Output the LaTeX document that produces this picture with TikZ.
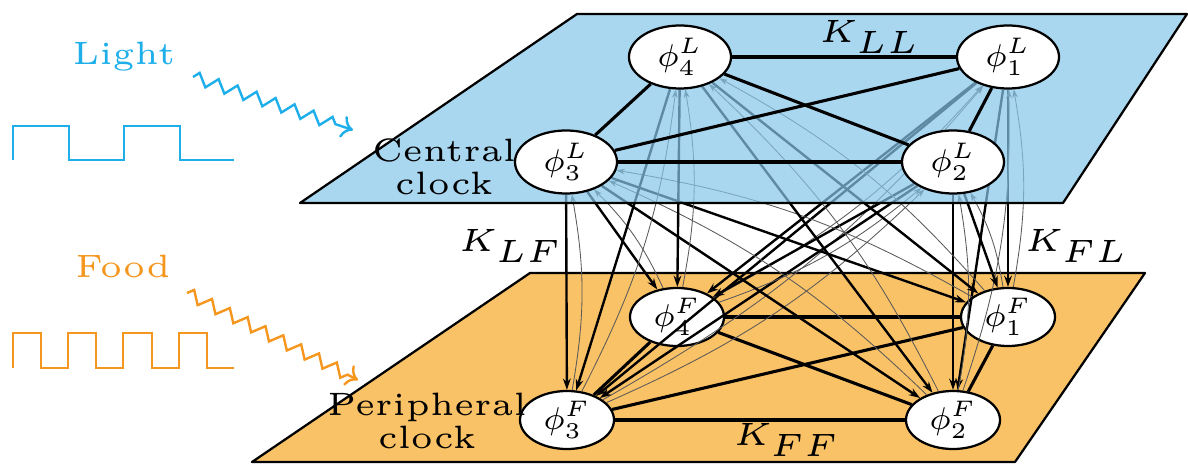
\documentclass[tikz,border=0pt]{standalone}
\usetikzlibrary{shapes.geometric,arrows.meta,decorations.pathmorphing}
\pgfdeclarelayer{planeF}
\pgfdeclarelayer{edgeF}
\pgfdeclarelayer{nodeF}
\pgfdeclarelayer{arrowsLF}
\pgfdeclarelayer{planeL}
\pgfdeclarelayer{edgeL}
\pgfsetlayers{planeF,edgeF,nodeF,arrowsLF,planeL,edgeL,main}
\definecolor{planeblue}{RGB}{134,198,234}
\definecolor{planeorange}{RGB}{250,194,102}
\definecolor{lightc}{RGB}{30,175,235}
\definecolor{foodc}{RGB}{245,150,30}
\newcommand{\tx}[1]{\scalebox{4.6}{\fontsize{5}{6}\selectfont #1}}
\newcommand{\mx}[1]{\scalebox{3.2}{\fontsize{7}{8}\selectfont$#1$}}
\newcommand{\twoline}[2]{\scalebox{4.6}{\fontsize{5}{6}\selectfont\begin{tabular}{@{}c@{}}#1\\[-0.9pt]#2\end{tabular}}}
\tikzset{
  osc/.style={ellipse, draw, line width=1.6pt, fill=white, inner sep=0pt},
  lnode/.style={osc, minimum width=2.55cm, minimum height=1.575cm},
  fnode/.style={osc, minimum width=2.35cm, minimum height=1.45cm},
  plane/.style={draw=black, line width=1.6pt, line join=round},
  couple/.style={line width=2.2pt},
  lf/.style={line width=1.7pt, -{Stealth[length=8pt,width=5.5pt]}},
  fl/.style={line width=0.6pt, black!65, -{Stealth[length=6pt,width=4pt]}},
  wave/.style={line width=1.6pt, line join=miter},
  zz/.style={line width=1.7pt, decorate, decoration={zigzag, segment length=0.5cm, amplitude=0.15cm, post length=0.25cm}, -{Computer Modern Rightarrow[length=8pt,width=16pt]}},
}
\begin{document}
\begin{tikzpicture}[x=0.025cm,y=-0.025cm]
\useasboundingbox (0,0) rectangle (1188,464);

% lower plane
\begin{pgfonlayer}{planeF}
\filldraw[plane, fill=planeorange] (530,273) -- (1145,273) -- (1015,462) -- (252,462) -- cycle;
\end{pgfonlayer}

% F nodes
\begin{pgfonlayer}{nodeF}
\node[fnode] (F4) at (677,317) {\mx{\phi_4^F}};
\node[fnode] (F1) at (1008,317) {\mx{\phi_1^F}};
\node[fnode] (F3) at (567,420) {\mx{\phi_3^F}};
\node[fnode] (F2) at (953,420) {\mx{\phi_2^F}};
\end{pgfonlayer}

% L nodes
\node[lnode] (L4) at (680,57) {\mx{\phi_4^L}};
\node[lnode] (L1) at (1008,57) {\mx{\phi_1^L}};
\node[lnode] (L3) at (566,162) {\mx{\phi_3^L}};
\node[lnode] (L2) at (953,162) {\mx{\phi_2^L}};

% couplings inside planes
\begin{pgfonlayer}{edgeF}
\draw[couple] (F4) -- (F1);
\draw[couple] (F4) -- (F3);
\draw[couple] (F4) -- (F2);
\draw[couple] (F3) -- (F1);
\draw[couple] (F3) -- (F2);
\draw[couple] (F1) -- (F2);
\end{pgfonlayer}

\begin{pgfonlayer}{arrowsLF}
\foreach \i in {1,...,4}{
  \foreach \j in {1,...,4}{
    \draw[lf] (L\i) -- (F\j);
    \draw[fl] (F\j) to[bend right=10] (L\i);
  }
}
\end{pgfonlayer}

% upper plane
\begin{pgfonlayer}{planeL}
\fill[planeblue, fill opacity=0.7] (577,14) -- (1187,14) -- (1063,203) -- (300,203) -- cycle;
\draw[plane] (577,14) -- (1187,14) -- (1063,203) -- (300,203) -- cycle;
\end{pgfonlayer}

\begin{pgfonlayer}{edgeL}
\draw[couple] (L4) -- (L1);
\draw[couple] (L4) -- (L3);
\draw[couple] (L4) -- (L2);
\draw[couple] (L3) -- (L1);
\draw[couple] (L3) -- (L2);
\draw[couple] (L1) -- (L2);
\end{pgfonlayer}

% labels
\node (kll) at (870,37) {\tx{$K_{LL}$}};
\node (klf) at (511,246) {\tx{$K_{LF}$}};
\node (kfl) at (1077,246) {\tx{$K_{FL}$}};
\node (kff) at (787,440) {\tx{$K_{FF}$}};
\node (central) at (444,170) {\twoline{Central}{clock}};
\node (periph) at (427,424) {\twoline{Peripheral}{clock}};
\node[text=lightc] (light) at (124,57) {\tx{Light}};
\node[text=foodc] (food) at (123,266) {\tx{Food}};

% signals
\draw[wave, lightc] (13,160) -- (13,126) -- (69,126) -- (69,160) -- (124,160) -- (124,126) -- (180,126) -- (180,160) -- (234,160);
\draw[wave, foodc] (13,368) -- (13,333) -- (41,333) -- (41,368) -- (68,368) -- (68,333) -- (96,333) -- (96,368) -- (123,368) -- (123,333) -- (152,333) -- (152,368) -- (179,368) -- (179,333) -- (207,333) -- (207,368) -- (234,368);

\coordinate (ls) at (193,77);
\coordinate (le) at (353,130);
\coordinate (fs) at (187,293);
\coordinate (fe) at (358,380);
\draw[zz, lightc] (ls) -- (le);
\draw[zz, foodc] (fs) -- (fe);
\end{tikzpicture}
\end{document}
